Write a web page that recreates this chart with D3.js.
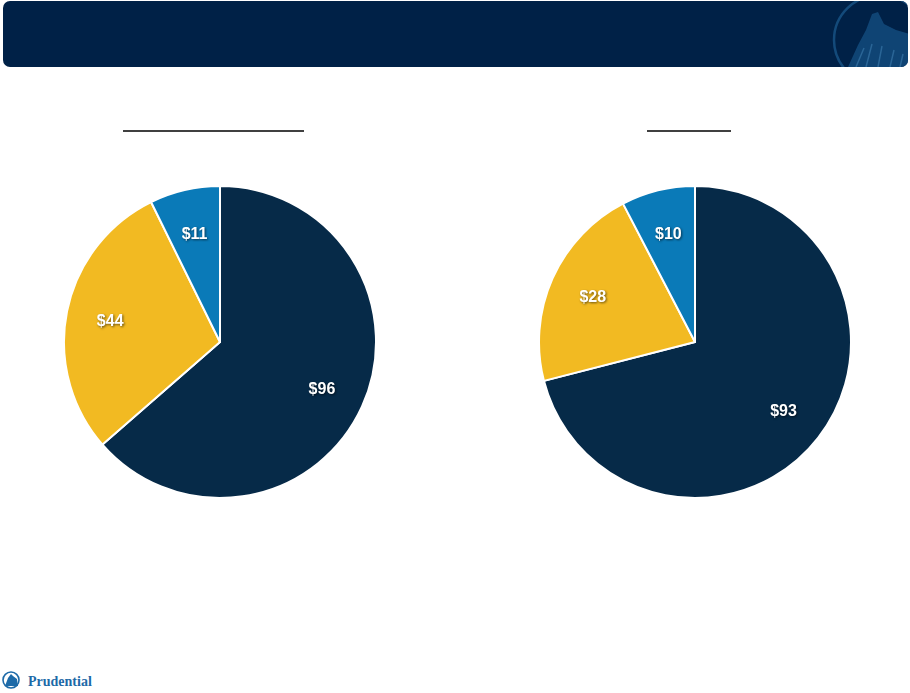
<!DOCTYPE html>
<html>
<head>
<meta charset="utf-8">
<script src="https://cdn.jsdelivr.net/npm/d3@7"></script>
<style>
  body { margin: 0; background: #fff; }
  svg { display: block; }
  .slice-label { font-family: Arial, "Liberation Sans", sans-serif; font-weight: bold; font-size: 16px; fill: #fff;
                 filter: drop-shadow(1px 1px 1px rgba(0,0,0,0.55)); }
</style>
</head>
<body>
<script>
// slice order: clockwise from 12 o'clock
const sliceNames = ["Navy", "Yellow", "Blue"];
const leftValues = [96, 44, 11];
const rightValues = [93, 28, 10];
const sliceColors = ["#062a48", "#f2ba22", "#0a7ab8"];

const w = 910;
const h = 693;
const radius = 156;
const labelRadius = 112;

const svg = d3.select("body").append("svg")
              .attr("width", w)
              .attr("height", h);

// header bar
svg.append("rect")
   .attr("x", 3).attr("y", 1)
   .attr("width", w - 5).attr("height", 66)
   .attr("rx", 7)
   .attr("fill", "#002147");

// faint rock emblem in the header corner
svg.append("clipPath").attr("id", "hdr")
   .append("rect").attr("x", 3).attr("y", 1).attr("width", w - 5).attr("height", 66).attr("rx", 7);
const emblem = svg.append("g").attr("clip-path", "url(#hdr)");
emblem.append("ellipse")
      .attr("cx", 880).attr("cy", 40).attr("rx", 46).attr("ry", 45)
      .attr("fill", "none").attr("stroke", "#134a7a").attr("stroke-width", 2.5);
emblem.append("path")
      .attr("d", "M848,67 L858,45 L866,30 L872,14 L878,12 L884,24 L896,30 L910,34 L910,67 Z")
      .attr("fill", "#0f4474");
emblem.append("path")
      .attr("d", "M856,67 L864,48 M866,67 L872,44 M878,67 L882,46 M890,67 L894,50 M900,67 L903,54")
      .attr("stroke", "#2a6596").attr("stroke-width", 1.5).attr("fill", "none");

// title underlines (title text not shown)
svg.append("line").attr("x1", 123).attr("x2", 304).attr("y1", 131).attr("y2", 131)
   .attr("stroke", "#000").attr("stroke-width", 1.3);
svg.append("line").attr("x1", 647).attr("x2", 731).attr("y1", 131).attr("y2", 131)
   .attr("stroke", "#000").attr("stroke-width", 1.3);

const pie = d3.pie().sort(null).value(d => d);
const arc = d3.arc().innerRadius(0).outerRadius(radius);
const labelArc = d3.arc().innerRadius(labelRadius).outerRadius(labelRadius);

function drawPie(values, cx, cy) {
    const g = svg.append("g").attr("transform", `translate(${cx}, ${cy})`);

    g.selectAll("path")
     .data(pie(values))
     .enter().append("path")
     .attr("d", arc)
     .attr("fill", (d, i) => sliceColors[i])
     .attr("stroke", "#fff")
     .attr("stroke-width", 2)
     .attr("stroke-linejoin", "round");

    g.selectAll("text")
     .data(pie(values))
     .enter().append("text")
     .attr("class", "slice-label")
     .attr("text-anchor", "middle")
     .attr("dy", "0.35em")
     .attr("transform", d => `translate(${labelArc.centroid(d)})`)
     .text(d => "$" + d.data);
}

drawPie(leftValues, 220, 342);
drawPie(rightValues, 695, 342);

// footer logo
const logo = svg.append("g");
logo.append("circle").attr("cx", 11).attr("cy", 680).attr("r", 8)
    .attr("fill", "#fff").attr("stroke", "#1d6aa8").attr("stroke-width", 1.6);
logo.append("path").attr("d", "M5,686 L8,678 L11,674 L13,676 L17,679 L18,686 Z").attr("fill", "#1d6aa8");
logo.append("text")
    .attr("x", 28).attr("y", 686)
    .attr("font-family", "'Liberation Serif', 'DejaVu Serif', serif")
    .attr("font-weight", "bold").attr("font-size", 14)
    .attr("fill", "#1d6aa8")
    .text("Prudential");
</script>
</body>
</html>
